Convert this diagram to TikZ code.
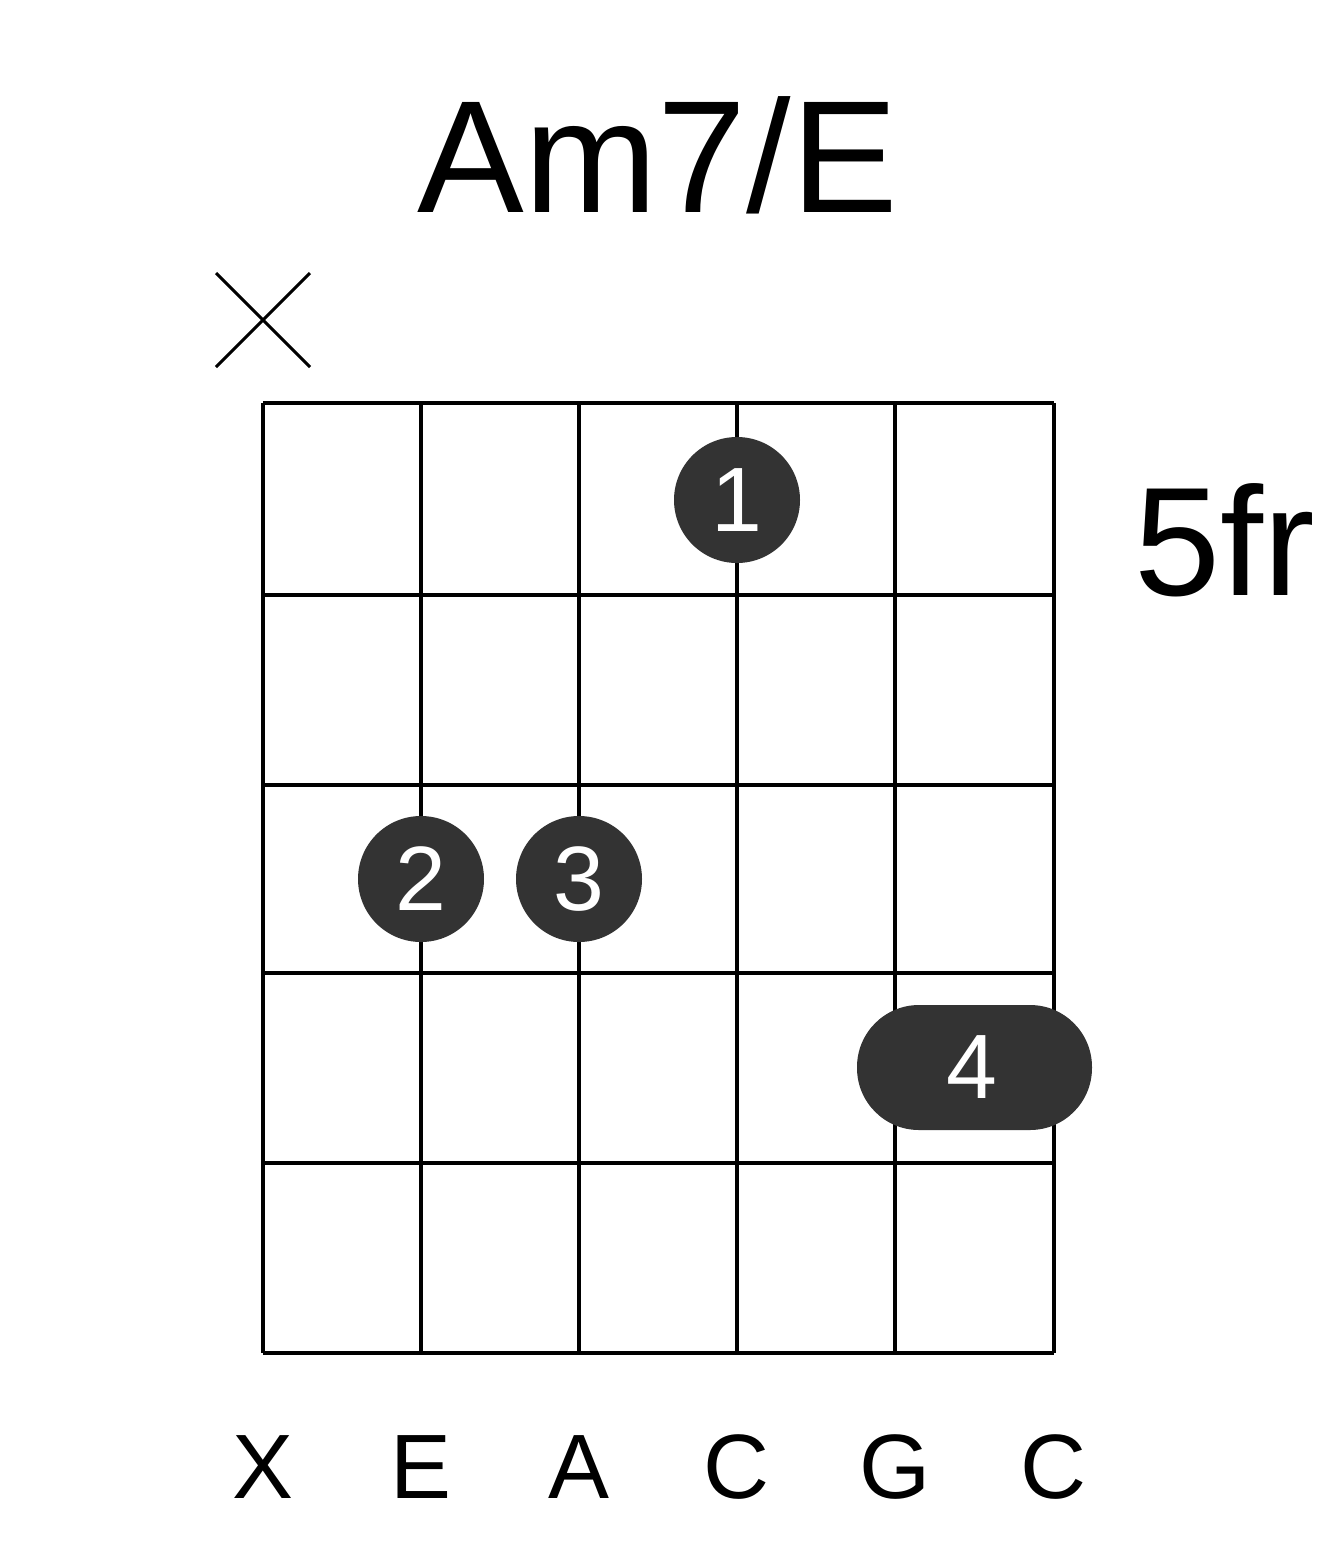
\documentclass[tikz,border=0pt]{standalone}
\usepackage{fontspec}
\setmainfont{Liberation Sans}
\usetikzlibrary{positioning}
\tikzset{fingerdot/.style={circle,fill=black!80,text=white,minimum size=126\unitpx,inner sep=0pt,font=\fontsize{26}{26}\selectfont},
  stringname/.style={font=\fontsize{26}{26}\selectfont},
  gridline/.style={line width=1.2pt}}
\newlength{\unitpx}\setlength{\unitpx}{0.01cm}
\begin{document}
\begin{tikzpicture}[x=0.01cm,y=-0.01cm]
    \useasboundingbox (0,0) rectangle (1317,1551);
    \node[font=\fontsize{45.5}{45.5}\selectfont] (title) at (658,155) {Am7/E};
    \node[font=\fontsize{44}{44}\selectfont] (fret) at (1225,540) {5fr};

    % grid
    \foreach \x in {263,421,579,737,895,1054}
      \draw[gridline] (\x,403) -- (\x,1353);
    \foreach \y in {403,595,785,973,1163,1353}
      \draw[gridline] (263,\y) -- (1054,\y);

    % muted string
    \coordinate (m1) at (216,273);
    \coordinate (m2) at (310,367);
    \coordinate (m3) at (216,367);
    \coordinate (m4) at (310,273);
    \draw[line width=0.9pt] (m1) -- (m2) (m3) -- (m4);

    % fingers
    \node[fingerdot] (f1) at (737,500) {1};
    \node[fingerdot] (f2) at (421,879) {2};
    \node[fingerdot] (f3) at (579,879) {3};
    \fill[black!80,rounded corners=62\unitpx] (857,1005) rectangle (1092,1130);
    \node[text=white,font=\fontsize{26}{26}\selectfont] (f4) at (972,1067) {4};

    % string names
    \foreach \x/\n [count=\i] in {263/X,421/E,579/A,737/C,895/G,1054/C}
      \node[stringname] (s\i) at (\x,1467) {\n};
\end{tikzpicture}
\end{document}
